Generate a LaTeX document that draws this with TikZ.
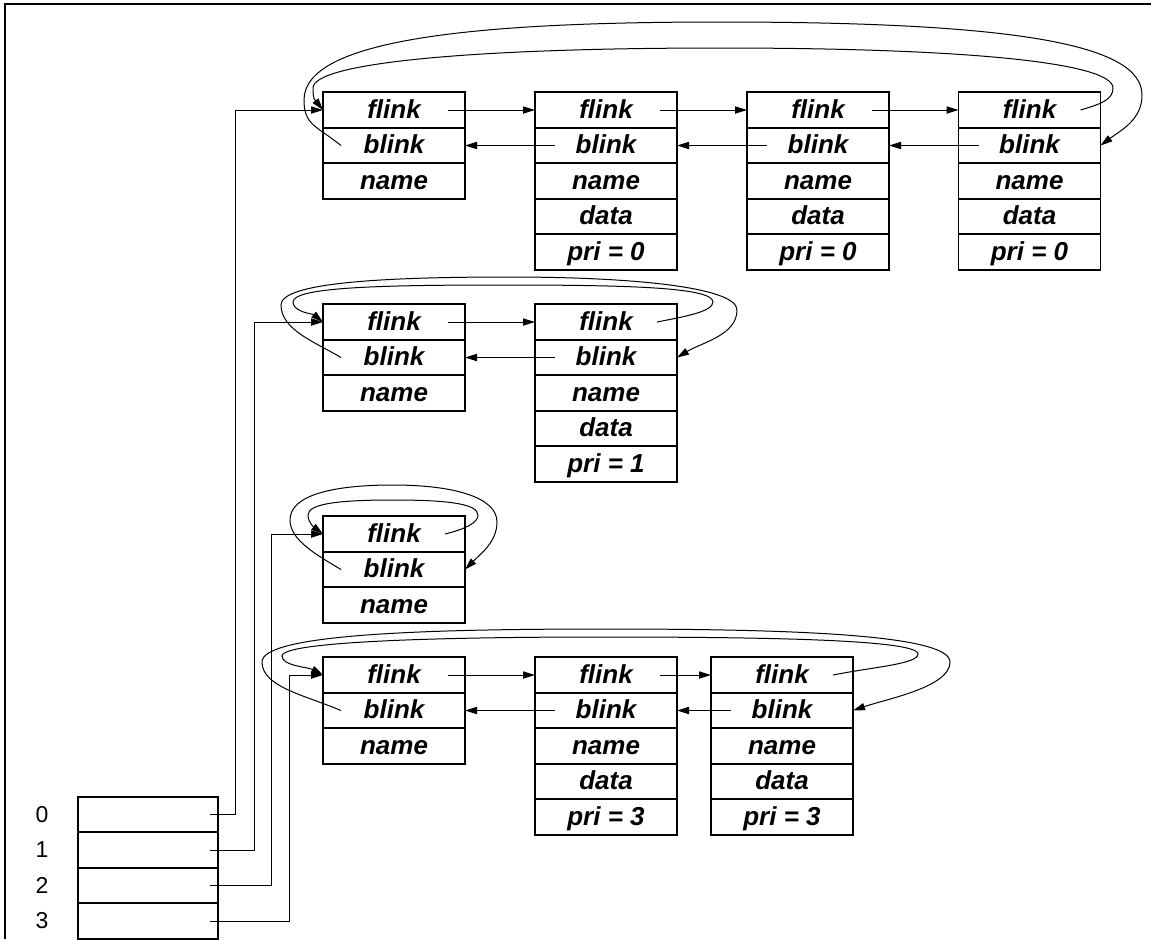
\documentclass[tikz,border=0pt]{standalone}
\usepackage{fontspec}
\setmainfont{Liberation Sans}
\usetikzlibrary{positioning,arrows.meta}
\begin{document}
\begin{tikzpicture}[x=0.5pt,y=0.5pt,
	cell/.style={draw, line width=0.85pt, minimum width=71pt, minimum height=17.75pt, inner sep=0pt, outer sep=0pt, text height=9.6pt, text depth=1.4pt, font=\fontsize{13}{15}\selectfont\bfseries\itshape},
	slot/.style={draw, line width=0.85pt, minimum width=70pt, minimum height=17.75pt, inner sep=0pt, outer sep=0pt},
	arr/.style={-{Triangle[length=6pt,width=3.6pt]}, line width=0.5pt},
	idx/.style={font=\fontsize{11.5}{13}\selectfont}]
	\useasboundingbox (0,0) rectangle (1151,-939);
	\draw[line width=1.3pt] (5,-939) |- (1151,-4);
	% priority 0
	\node (a1f) at ( 394, -110)	[cell]	{flink};
	\node (a1b) [cell, below=0pt of a1f]	{blink};
	\node (a1n) [cell, below=0pt of a1b]	{name};
	\node (b1f) at ( 606, -110)	[cell]	{flink};
	\node (b1b) [cell, below=0pt of b1f]	{blink};
	\node (b1n) [cell, below=0pt of b1b]	{name};
	\node (b1d) [cell, below=0pt of b1n]	{data};
	\node (b1p) [cell, below=0pt of b1d]	{pri = 0};
	\node (c1f) at ( 818, -110)	[cell]	{flink};
	\node (c1b) [cell, below=0pt of c1f]	{blink};
	\node (c1n) [cell, below=0pt of c1b]	{name};
	\node (c1d) [cell, below=0pt of c1n]	{data};
	\node (c1p) [cell, below=0pt of c1d]	{pri = 0};
	\node (d1f) at (1029.5, -110)	[cell]	{flink};
	\node (d1b) [cell, below=0pt of d1f]	{blink};
	\node (d1n) [cell, below=0pt of d1b]	{name};
	\node (d1d) [cell, below=0pt of d1n]	{data};
	\node (d1p) [cell, below=0pt of d1d]	{pri = 0};
	% priority 1
	\node (a2f) at ( 394, -322)	[cell]	{flink};
	\node (a2b) [cell, below=0pt of a2f]	{blink};
	\node (a2n) [cell, below=0pt of a2b]	{name};
	\node (b2f) at ( 606, -322)	[cell]	{flink};
	\node (b2b) [cell, below=0pt of b2f]	{blink};
	\node (b2n) [cell, below=0pt of b2b]	{name};
	\node (b2d) [cell, below=0pt of b2n]	{data};
	\node (b2p) [cell, below=0pt of b2d]	{pri = 1};
	% priority 2 (empty)
	\node (a3f) at ( 394, -534)	[cell]	{flink};
	\node (a3b) [cell, below=0pt of a3f]	{blink};
	\node (a3n) [cell, below=0pt of a3b]	{name};
	% priority 3
	\node (a4f) at ( 394, -675)	[cell]	{flink};
	\node (a4b) [cell, below=0pt of a4f]	{blink};
	\node (a4n) [cell, below=0pt of a4b]	{name};
	\node (b4f) at ( 606, -675)	[cell]	{flink};
	\node (b4b) [cell, below=0pt of b4f]	{blink};
	\node (b4n) [cell, below=0pt of b4b]	{name};
	\node (b4d) [cell, below=0pt of b4n]	{data};
	\node (b4p) [cell, below=0pt of b4d]	{pri = 3};
	\node (c4f) at ( 782, -675)	[cell]	{flink};
	\node (c4b) [cell, below=0pt of c4f]	{blink};
	\node (c4n) [cell, below=0pt of c4b]	{name};
	\node (c4d) [cell, below=0pt of c4n]	{data};
	\node (c4p) [cell, below=0pt of c4d]	{pri = 3};
	% head array
	\node (h0) at ( 148, -814.5)	[slot]	{};
	\node (h1) [slot, below=0pt of h0]	{};
	\node (h2) [slot, below=0pt of h1]	{};
	\node (h3) [slot, below=0pt of h2]	{};
	\node (i0) at (42, -814.5)	[idx]	{0};
	\node (i1) at (42, -850)	[idx]	{1};
	\node (i2) at (42, -885.5)	[idx]	{2};
	\node (i3) at (42, -921)	[idx]	{3};
	\draw[arr] ([xshift=-4pt]h0.east) -- ++(25,0) |- (a1f.west);
	\draw[arr] ([xshift=-4pt]h1.east) -- ++(44,0) |- (a2f.west);
	\draw[arr] ([xshift=-4pt]h2.east) -- ++(61,0) |- (a3f.west);
	\draw[arr] ([xshift=-4pt]h3.east) -- ++(79,0) |- (a4f.west);
	% forward and back links
	\draw[arr] ([xshift=-8.5pt]a1f.east) -- (b1f.west);
	\draw[arr] ([xshift=-8.5pt]b1f.east) -- (c1f.west);
	\draw[arr] ([xshift=-8.5pt]c1f.east) -- (d1f.west);
	\draw[arr] ([xshift=10pt]b1b.west) -- (a1b.east);
	\draw[arr] ([xshift=10pt]c1b.west) -- (b1b.east);
	\draw[arr] ([xshift=10pt]d1b.west) -- (c1b.east);
	\draw[arr] ([xshift=-8.5pt]a2f.east) -- (b2f.west);
	\draw[arr] ([xshift=10pt]b2b.west) -- (a2b.east);
	\draw[arr] ([xshift=-8.5pt]a4f.east) -- (b4f.west);
	\draw[arr] ([xshift=-8.5pt]b4f.east) -- (c4f.west);
	\draw[arr] ([xshift=10pt]b4b.west) -- (a4b.east);
	\draw[arr] ([xshift=10pt]c4b.west) -- (b4b.east);
	% wrap-around links
	\draw[arr] ([xshift=-10pt]d1f.east) .. controls +(20,6) and +(0,-12) .. (1113,-88)
		.. controls +(0,25) and +(250,0) .. (720,-48)
		.. controls +(-250,0) and +(0,25) .. (313,-88)
		.. controls +(0,-12) and +(-8,10) .. (a1f.west);
	\draw[arr] ([xshift=9pt]a1b.west) .. controls +(-25,20) and +(0,-25) .. (304,-100)
		.. controls +(0,60) and +(-250,0) .. (720,-22)
		.. controls +(300,0) and +(0,50) .. (1142,-95)
		.. controls +(0,-25) and +(20,15) .. (d1b.east);
	\draw[arr] ([xshift=-10pt]b2f.east) .. controls +(25,5) and +(0,-10) .. (713,-302)
		.. controls +(0,15) and +(120,0) .. (503,-285)
		.. controls +(-120,0) and +(0,15) .. (293,-302)
		.. controls +(0,-10) and +(-10,8) .. (a2f.west);
	\draw[arr] ([xshift=9pt]a2b.west) .. controls +(-25,15) and +(0,-25) .. (281,-305)
		.. controls +(0,22) and +(-130,0) .. (509,-277)
		.. controls +(130,0) and +(0,22) .. (737,-310)
		.. controls +(0,-25) and +(25,15) .. (b2b.east);
	\draw[arr] ([xshift=-10pt]a3f.east) .. controls +(20,5) and +(0,-8) .. (478,-515)
		.. controls +(0,12) and +(50,0) .. (393,-500)
		.. controls +(-50,0) and +(0,12) .. (308,-515)
		.. controls +(0,-8) and +(-8,6) .. (a3f.west);
	\draw[arr] ([xshift=9pt]a3b.west) .. controls +(-25,15) and +(0,-20) .. (290,-520)
		.. controls +(0,25) and +(-60,0) .. (393,-485)
		.. controls +(60,0) and +(0,25) .. (497,-522)
		.. controls +(0,-20) and +(15,15) .. (a3b.east);
	\draw[arr] ([xshift=-10pt]c4f.east) .. controls +(40,8) and +(0,-10) .. (918,-654)
		.. controls +(0,15) and +(150,0) .. (600,-637)
		.. controls +(-150,0) and +(0,15) .. (282,-656)
		.. controls +(0,-10) and +(-15,8) .. (a4f.west);
	\draw[arr] ([xshift=9pt]a4b.west) .. controls +(-35,15) and +(0,-25) .. (262,-662)
		.. controls +(0,28) and +(-180,0) .. (606,-629)
		.. controls +(180,0) and +(0,28) .. (950,-662)
		.. controls +(0,-25) and +(35,12) .. (c4b.east);
\end{tikzpicture}
\end{document}
